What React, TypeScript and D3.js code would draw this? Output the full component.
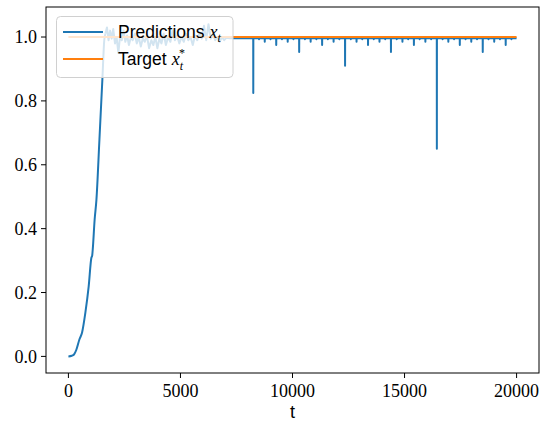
import React from 'react';
import * as d3 from 'd3';

// rise phase of the predictions (t, value)
const riseT = [0, 150, 250, 350, 490, 610, 757, 905, 1025, 1060, 1085, 1170, 1250, 1385, 1515, 1600, 1650];
const riseV = [0, 0.002, 0.006, 0.02, 0.053, 0.075, 0.137, 0.219, 0.309, 0.315, 0.334, 0.428, 0.49, 0.68, 0.866, 0.99, 1.01];

// noisy phase near 1.0 (mostly hidden behind the legend)
const noiseT = [1650, 1720, 1790, 1860, 1930, 2000, 2080, 2150, 2230, 2300, 2380, 2460, 2540, 2620, 2700, 2790, 2870, 2960, 3050, 3140, 3230, 3320, 3410, 3500, 3600, 3700, 3790, 3880, 3970, 4060, 4150, 4250, 4350, 4450, 4550, 4650, 4750, 4850, 4950, 5050, 5150, 5250, 5350, 5450, 5550, 5650, 5750, 5850, 5950, 6050, 6150, 6250, 6350, 6450, 6550, 6650, 6750, 6850, 6950, 7050, 7200];
const noiseV = [1.01, 1.03, 0.99, 1.02, 0.995, 1.025, 0.98, 1.0, 0.95, 1.0, 0.99, 1.02, 0.985, 1.005, 0.975, 1.0, 0.99, 1.01, 0.98, 1.0, 0.97, 0.995, 0.985, 1.005, 0.965, 0.99, 0.975, 1.0, 0.965, 0.995, 0.98, 1.01, 0.975, 1.0, 0.985, 1.02, 0.99, 1.005, 0.98, 1.0, 0.985, 1.01, 0.99, 1.0, 0.975, 1.005, 0.99, 1.015, 0.995, 1.035, 0.99, 1.04, 0.995, 1.01, 0.99, 1.0, 0.985, 1.0, 0.99, 0.998, 0.996];

// settled phase: baseline with periodic downward spikes
const baseline = 0.996;
const spikeT = [8250, 8506, 8762, 9018, 9274, 9530, 9786, 10042, 10298, 10554, 10810, 11066, 11322, 11578, 11834, 12090, 12346, 12602, 12858, 13114, 13370, 13626, 13882, 14138, 14394, 14650, 14906, 15162, 15418, 15674, 15930, 16186, 16442, 16698, 16954, 17210, 17466, 17722, 17978, 18234, 18490, 18746, 19002, 19258, 19514, 19770];
const spikeV = [0.825, 0.993, 0.985, 0.993, 0.975, 0.993, 0.985, 0.993, 0.953, 0.993, 0.985, 0.993, 0.975, 0.993, 0.985, 0.993, 0.91, 0.993, 0.985, 0.993, 0.975, 0.993, 0.985, 0.993, 0.953, 0.993, 0.985, 0.993, 0.975, 0.993, 0.985, 0.993, 0.65, 0.993, 0.985, 0.993, 0.975, 0.993, 0.985, 0.993, 0.953, 0.993, 0.985, 0.993, 0.975, 0.993];
const lastT = 19999;

const targetT = [0, 19999];
const targetV = [1, 1];

const xTicks = [0, 5000, 10000, 15000, 20000];
const yTicks = [0, 0.2, 0.4, 0.6, 0.8, 1.0];

const W = 540;
const H = 421;
const left = 46, right = 539, top = 7, bottom = 373;

const serif = '"Liberation Serif", "Times New Roman", serif';
const sans = '"Liberation Sans", Arial, sans-serif';

export default function App() {
  const x = d3.scaleLinear().domain([-1000, 21000]).range([left, right]);
  const y = d3.scaleLinear().domain([-0.052, 1.094]).range([bottom, top]);

  const rise: [number, number][] = riseT.map((t, i) => [t, riseV[i]]);

  const pts: [number, number][] = [];
  noiseT.forEach((t, i) => pts.push([t, noiseV[i]]));
  pts.push([7350, baseline]);
  spikeT.forEach((t, i) => {
    pts.push([t - 3, baseline]);
    pts.push([t, spikeV[i]]);
    pts.push([t + 3, baseline]);
  });
  pts.push([lastT, baseline]);

  const line = d3.line<[number, number]>()
    .x(d => x(d[0]))
    .y(d => y(d[1]));
  const smooth = d3.line<[number, number]>()
    .x(d => x(d[0]))
    .y(d => y(d[1]))
    .curve(d3.curveMonotoneX);

  const target: [number, number][] = targetT.map((t, i) => [t, targetV[i]]);

  return (
    <svg width={W} height={H} style={{ position: 'absolute', left: 0, top: 0, display: 'block' }}>
      <rect x={0} y={0} width={W} height={H} fill="#fff" />
      <path d={smooth(rise) || ''} fill="none" stroke="#1f77b4" strokeWidth={2} strokeLinejoin="round" />
      <path d={line(pts) || ''} fill="none" stroke="#1f77b4" strokeWidth={2} strokeLinejoin="round" />
      <path d={line(target) || ''} fill="none" stroke="#ff7f0e" strokeWidth={2} />

      {/* frame */}
      <rect x={left} y={top} width={right - left} height={bottom - top} fill="none" stroke="#000" strokeWidth={1} />

      {/* x axis */}
      {xTicks.map(t => (
        <g key={t}>
          <line x1={x(t)} x2={x(t)} y1={bottom} y2={bottom + 5} stroke="#000" strokeWidth={1} />
          <text x={x(t)} y={397} textAnchor="middle" fontFamily={serif} fontSize={18} fill="#000">{t}</text>
        </g>
      ))}
      <text x={(left + right) / 2} y={418} textAnchor="middle" fontFamily={sans} fontSize={18} fill="#000">t</text>

      {/* y axis */}
      {yTicks.map(v => (
        <g key={v}>
          <line x1={left - 5} x2={left} y1={y(v)} y2={y(v)} stroke="#000" strokeWidth={1} />
          <text x={37} y={y(v)} dy="0.34em" textAnchor="end" fontFamily={serif} fontSize={18} fill="#000">{v.toFixed(1)}</text>
        </g>
      ))}

      {/* legend */}
      <rect x={56.5} y={16.5} width={176.5} height={61} rx={4} fill="#fff" fillOpacity={0.8} stroke="#d0d0d0" strokeWidth={1} />
      <line x1={63} x2={103} y1={32} y2={32} stroke="#1f77b4" strokeWidth={2} />
      <line x1={63} x2={103} y1={59} y2={59} stroke="#ff7f0e" strokeWidth={2} />
      <text x={118} y={38} fontFamily={sans} fontSize={17.5} fill="#000">
        Predictions
        <tspan dx={5} fontFamily={serif} fontStyle="italic" fontSize={18}>x</tspan>
        <tspan dy={4} fontFamily={serif} fontStyle="italic" fontSize={12}>t</tspan>
      </text>
      <text x={118} y={65} fontFamily={sans} fontSize={17.5} fill="#000">
        Target
        <tspan dx={5} fontFamily={serif} fontStyle="italic" fontSize={18}>x</tspan>
        <tspan dy={5} fontFamily={serif} fontStyle="italic" fontSize={12}>t</tspan>
        <tspan dx={-4} dy={-13} fontFamily={serif} fontSize={12}>*</tspan>
      </text>
    </svg>
  );
}
